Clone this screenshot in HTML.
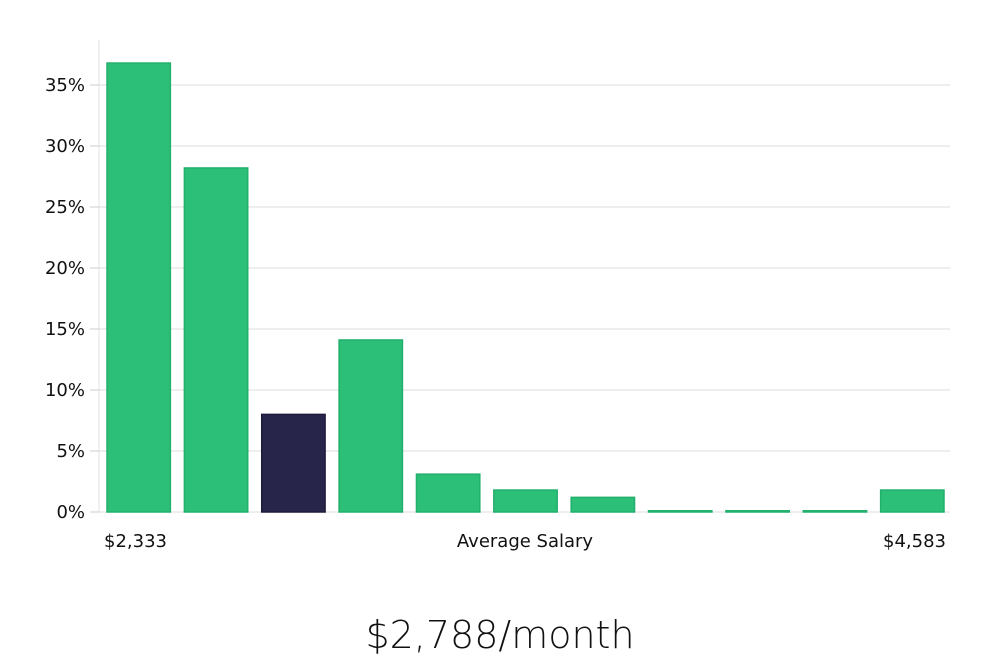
<!DOCTYPE html>
<html><head><meta charset="utf-8"><style>
body{margin:0;background:#fff;width:1000px;height:660px;overflow:hidden;font-family:"DejaVu Sans","Liberation Sans",sans-serif;}
svg text{font-family:"DejaVu Sans","Liberation Sans",sans-serif;}
</style></head><body>
<svg id="chart" width="1000" height="660" xmlns="http://www.w3.org/2000/svg"></svg>
<script>
const categories = ["b1","b2","b3","b4","b5","b6","b7","b8","b9","b10","b11"];
const values = [36.8, 28.2, 8.0, 14.1, 3.1, 1.8, 1.2, 0.1, 0.1, 0.1, 1.8];
const highlightIndex = 2;
const yTicks = [0,5,10,15,20,25,30,35];
const yTickLabels = ["0%","5%","10%","15%","20%","25%","30%","35%"];
const xLabels = ["$2,333","Average Salary","$4,583"];
const title = "$2,788/month";

const svg = document.getElementById('chart');
const NS = 'http://www.w3.org/2000/svg';
const left = 99, right = 950, y0 = 512, pxPer = 12.2;
const y = v => y0 - v * pxPer;
const step = (right - left) / categories.length;
const x = i => left + 8 + i * step;
const bw = step - 14;
function mk(tag, attrs){const e=document.createElementNS(NS,tag);for(const k in attrs)e.setAttribute(k,attrs[k]);svg.appendChild(e);return e;}

const yAxis = mk('line',{x1:left,x2:left,y1:40,y2:y0,stroke:'#e0e0e0','stroke-width':1});


yTicks.forEach((t,i)=>{
  const g = mk('line',{x1:left,x2:right,y1:y(t),y2:y(t),stroke:'#dcdcdc','stroke-width':1});
  
  
  const tk = mk('line',{x1:90,x2:left,y1:y(t),y2:y(t),stroke:'#cccccc','stroke-width':1});
  
  
  const lb = mk('text',{x:85,y:y(t)+6,'text-anchor':'end','font-size':18,fill:'#111'});
  lb.textContent = yTickLabels[i];
  
  
});
values.forEach((v,i)=>{
  const hi = i===highlightIndex;
  const r = mk('rect',{x:x(i),y:y(v),width:bw,height:Math.max(1,v*pxPer),fill:hi?'#28254a':'#2bbf78',stroke:hi?'#1e1b3a':'#22b06c','stroke-width':1.5});
  
  
});
const xa = [[104,'start'],[525,'middle'],[946,'end']];
xLabels.forEach((l,i)=>{
  const t = mk('text',{x:xa[i][0],y:547,'text-anchor':xa[i][1],'font-size':18,fill:'#111'});
  t.textContent = l;
  
  
});
const tt = mk('text',{x:500,y:648,'text-anchor':'middle','font-size':38,fill:'#111','font-weight':300});
tt.textContent = title;


</script>
</body></html>
